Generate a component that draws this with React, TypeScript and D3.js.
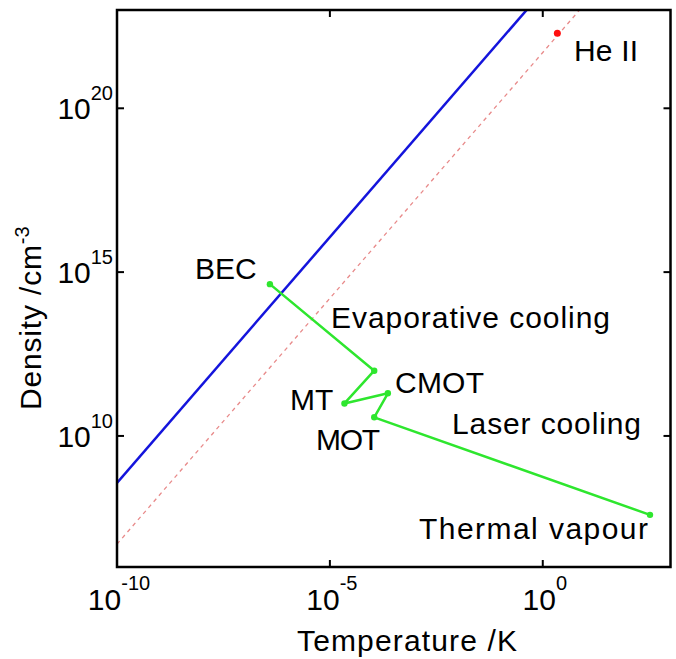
import React from "react";
import * as d3 from "d3";

// ---- data ----
const xTickValues = [1e-10, 1e-5, 1e0];
const xTickExps = ["-10", "-5", "0"];
const yTickValues = [1e10, 1e15, 1e20];
const yTickExps = ["10", "15", "20"];

// cooling path (thermal vapour -> MOT -> CMOT -> MT -> evap start -> BEC)
const pathTemps = [3.3e2, 1.1e-4, 2.3e-4, 2.2e-5, 1.1e-4, 3.9e-7];
const pathDens = [3.9e7, 3.7e10, 2.0e11, 9.8e10, 9.8e11, 4.3e14];

// BEC transition line (n ~ T^1.5)
const becTemps = [1e-10, 1e0];
const becDens = [3.7e8, 3.7e23];

// dashed reference line
const refTemps = [1e-10, 1e1];
const refDens = [5.0e6, 1.6e23];

// He II point
const heTemp = [2.2];
const heDens = [1.95e22];

const W = 676;
const H = 659;
const L = 117, R = 670.5, T = 10, B = 567;
const FONT = "'Liberation Sans', Arial, Helvetica, sans-serif";

export default function App() {
  const x = d3.scaleLog().domain([1e-10, 1e3]).range([L, R]);
  const y = d3.scaleLog().domain([1e6, 1e23]).range([B, T]);
  const line = d3
    .line<[number, number]>()
    .x((d) => x(d[0]))
    .y((d) => y(d[1]));

  const pathPts = pathTemps.map((t, i) => [t, pathDens[i]] as [number, number]);
  const becPts = becTemps.map((t, i) => [t, becDens[i]] as [number, number]);
  const refPts = refTemps.map((t, i) => [t, refDens[i]] as [number, number]);

  const tickLen = 7;
  const labelStyle: React.CSSProperties = { fontFamily: FONT, fontSize: 30, fill: "#000" };

  return (
    <svg width={W} height={H} style={{ position: "absolute", left: 0, top: 0, background: "#fff" }}>
      <defs>
        <clipPath id="plotclip">
          <rect x={L} y={T} width={R - L} height={B - T} />
        </clipPath>
      </defs>
      <rect x={0} y={0} width={W} height={H} fill="#fff" />

      <g clipPath="url(#plotclip)">
        <path d={line(refPts) || ""} fill="none" stroke="#e88a8a" strokeWidth={1.3} strokeDasharray="4,4" />
        <path d={line(becPts) || ""} fill="none" stroke="#1414dc" strokeWidth={2.5} />
        <path d={line(pathPts) || ""} fill="none" stroke="#2ee62e" strokeWidth={2.5} strokeLinejoin="round" />
        {pathPts.map((p, i) => (
          <circle key={i} cx={x(p[0])} cy={y(p[1])} r={3.2} fill="#2ee62e" />
        ))}
        {heTemp.map((t, i) => (
          <circle key={"he" + i} cx={x(t)} cy={y(heDens[i])} r={3.5} fill="#ff1010" />
        ))}
      </g>

      {/* ticks */}
      {xTickValues.map((v, i) => (
        <g key={"xt" + i}>
          <line x1={x(v)} x2={x(v)} y1={B} y2={B - tickLen} stroke="#000" strokeWidth={2} />
          <line x1={x(v)} x2={x(v)} y1={T} y2={T + tickLen} stroke="#000" strokeWidth={2} />
          <text x={x(v) + 2} y={610} textAnchor="middle" style={{ fontFamily: FONT, fontSize: 30, fill: "#000" }}>
            10
            <tspan dy={-20} style={{ fontSize: 20 }}>{xTickExps[i]}</tspan>
          </text>
        </g>
      ))}
      {yTickValues.map((v, i) => (
        <g key={"yt" + i}>
          <line x1={L} x2={L + tickLen} y1={y(v)} y2={y(v)} stroke="#000" strokeWidth={2} />
          <line x1={R} x2={R - tickLen} y1={y(v)} y2={y(v)} stroke="#000" strokeWidth={2} />
          <text x={113} y={y(v) + 11} textAnchor="end" style={{ fontFamily: FONT, fontSize: 30, fill: "#000" }}>
            10
            <tspan dy={-19} style={{ fontSize: 20 }}>{yTickExps[i]}</tspan>
          </text>
        </g>
      ))}

      {/* box */}
      <rect x={L} y={T} width={R - L} height={B - T} fill="none" stroke="#000" strokeWidth={2.5} />

      {/* annotations */}
      <text x={574} y={61} textLength={64} lengthAdjust="spacing" style={labelStyle}>He II</text>
      <text x={195} y={279} style={labelStyle}>BEC</text>
      <text x={331} y={328} textLength={279} lengthAdjust="spacing" style={labelStyle}>Evaporative cooling</text>
      <text x={395} y={393} textLength={89} lengthAdjust="spacing" style={labelStyle}>CMOT</text>
      <text x={290} y={410} style={labelStyle}>MT</text>
      <text x={452} y={434} textLength={189} lengthAdjust="spacing" style={labelStyle}>Laser cooling</text>
      <text x={316} y={450} textLength={64} lengthAdjust="spacing" style={labelStyle}>MOT</text>
      <text x={419} y={539} textLength={229} lengthAdjust="spacing" style={labelStyle}>Thermal vapour</text>

      {/* axis titles */}
      <text x={297} y={651} textLength={220} lengthAdjust="spacing" style={{ fontFamily: FONT, fontSize: 30, fill: "#000" }}>
        Temperature /K
      </text>
      <text
        transform={`translate(41, ${410}) rotate(-90)`}
        style={{ fontFamily: FONT, fontSize: 30, fill: "#000" }}
      >
        <tspan textLength={165} lengthAdjust="spacing">Density /cm</tspan>
        <tspan dy={-12} style={{ fontSize: 20 }}>-3</tspan>
      </text>
    </svg>
  );
}
